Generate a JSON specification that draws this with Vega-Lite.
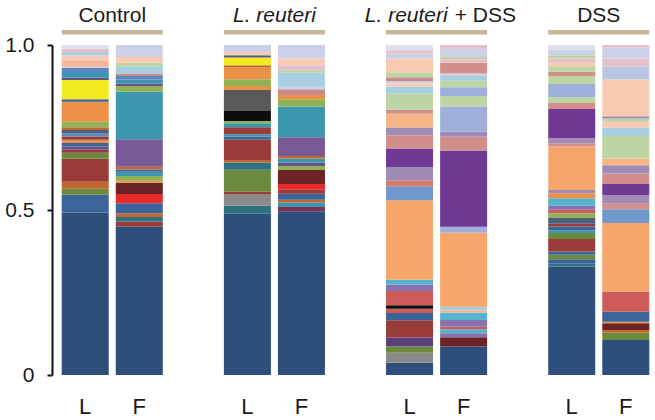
{
  "$schema": "https://vega.github.io/schema/vega-lite/v6.json",
  "width": 593,
  "height": 330,
  "autosize": {"type": "none"},
  "padding": {"left": 59, "top": 45, "right": 3, "bottom": 45},
  "background": "white",
  "config": {"view": {"stroke": null}, "font": "Liberation Sans"},
  "datasets": {
    "abundance": [
      {"sample":"Control L","taxon":"T01","share":49.2,"layer":1},
      {"sample":"Control L","taxon":"T02","share":5.4,"layer":2},
      {"sample":"Control L","taxon":"T03","share":1.8,"layer":3},
      {"sample":"Control L","taxon":"T04","share":2.1,"layer":4},
      {"sample":"Control L","taxon":"T05","share":7.0,"layer":5},
      {"sample":"Control L","taxon":"T03","share":1.8,"layer":6},
      {"sample":"Control L","taxon":"T05","share":0.9,"layer":7},
      {"sample":"Control L","taxon":"T06","share":1.0,"layer":8},
      {"sample":"Control L","taxon":"T02","share":1.0,"layer":9},
      {"sample":"Control L","taxon":"T07","share":1.0,"layer":10},
      {"sample":"Control L","taxon":"T05","share":1.0,"layer":11},
      {"sample":"Control L","taxon":"T12","share":1.0,"layer":12},
      {"sample":"Control L","taxon":"T08","share":1.0,"layer":13},
      {"sample":"Control L","taxon":"T04","share":0.8,"layer":14},
      {"sample":"Control L","taxon":"T09","share":1.7,"layer":15},
      {"sample":"Control L","taxon":"T07","share":6.0,"layer":16},
      {"sample":"Control L","taxon":"T02","share":0.8,"layer":17},
      {"sample":"Control L","taxon":"T10","share":5.8,"layer":18},
      {"sample":"Control L","taxon":"T06","share":0.7,"layer":19},
      {"sample":"Control L","taxon":"T11","share":1.4,"layer":20},
      {"sample":"Control L","taxon":"T12","share":1.5,"layer":21},
      {"sample":"Control L","taxon":"T17","share":0.4,"layer":22},
      {"sample":"Control L","taxon":"T13","share":2.0,"layer":23},
      {"sample":"Control L","taxon":"T14","share":1.5,"layer":24},
      {"sample":"Control L","taxon":"T15","share":1.0,"layer":25},
      {"sample":"Control L","taxon":"T16","share":1.0,"layer":26},
      {"sample":"Control L","taxon":"T41","share":1.1,"layer":27},

      {"sample":"Control F","taxon":"T01","share":44.9,"layer":1},
      {"sample":"Control F","taxon":"T05","share":1.5,"layer":2},
      {"sample":"Control F","taxon":"T18","share":1.3,"layer":3},
      {"sample":"Control F","taxon":"T04","share":1.2,"layer":4},
      {"sample":"Control F","taxon":"T02","share":3.0,"layer":5},
      {"sample":"Control F","taxon":"T19","share":2.8,"layer":6},
      {"sample":"Control F","taxon":"T20","share":3.4,"layer":7},
      {"sample":"Control F","taxon":"T07","share":0.6,"layer":8},
      {"sample":"Control F","taxon":"T09","share":1.4,"layer":9},
      {"sample":"Control F","taxon":"T11","share":1.3,"layer":10},
      {"sample":"Control F","taxon":"T02","share":0.7,"layer":11},
      {"sample":"Control F","taxon":"T04","share":0.8,"layer":12},
      {"sample":"Control F","taxon":"T21","share":8.3,"layer":13},
      {"sample":"Control F","taxon":"T11","share":14.4,"layer":14},
      {"sample":"Control F","taxon":"T09","share":1.7,"layer":15},
      {"sample":"Control F","taxon":"T06","share":0.8,"layer":16},
      {"sample":"Control F","taxon":"T11","share":1.2,"layer":17},
      {"sample":"Control F","taxon":"T12","share":1.0,"layer":18},
      {"sample":"Control F","taxon":"T23","share":0.8,"layer":19},
      {"sample":"Control F","taxon":"T15","share":2.2,"layer":20},
      {"sample":"Control F","taxon":"T22","share":1.0,"layer":21},
      {"sample":"Control F","taxon":"T24","share":1.8,"layer":22},
      {"sample":"Control F","taxon":"T17","share":3.6,"layer":23},

      {"sample":"L. reuteri L","taxon":"T01","share":48.8,"layer":1},
      {"sample":"L. reuteri L","taxon":"T18","share":2.4,"layer":2},
      {"sample":"L. reuteri L","taxon":"T27","share":3.6,"layer":3},
      {"sample":"L. reuteri L","taxon":"T05","share":0.7,"layer":4},
      {"sample":"L. reuteri L","taxon":"T03","share":6.6,"layer":5},
      {"sample":"L. reuteri L","taxon":"T18","share":2.2,"layer":6},
      {"sample":"L. reuteri L","taxon":"T04","share":0.8,"layer":7},
      {"sample":"L. reuteri L","taxon":"T05","share":6.1,"layer":8},
      {"sample":"L. reuteri L","taxon":"T02","share":1.0,"layer":9},
      {"sample":"L. reuteri L","taxon":"T11","share":0.7,"layer":10},
      {"sample":"L. reuteri L","taxon":"T05","share":2.1,"layer":11},
      {"sample":"L. reuteri L","taxon":"T11","share":1.2,"layer":12},
      {"sample":"L. reuteri L","taxon":"T09","share":0.7,"layer":13},
      {"sample":"L. reuteri L","taxon":"T26","share":3.0,"layer":14},
      {"sample":"L. reuteri L","taxon":"T25","share":6.4,"layer":15},
      {"sample":"L. reuteri L","taxon":"T07","share":1.2,"layer":16},
      {"sample":"L. reuteri L","taxon":"T09","share":2.0,"layer":17},
      {"sample":"L. reuteri L","taxon":"T07","share":3.6,"layer":18},
      {"sample":"L. reuteri L","taxon":"T04","share":0.7,"layer":19},
      {"sample":"L. reuteri L","taxon":"T10","share":2.3,"layer":20},
      {"sample":"L. reuteri L","taxon":"T08","share":0.7,"layer":21},
      {"sample":"L. reuteri L","taxon":"T24","share":1.0,"layer":22},
      {"sample":"L. reuteri L","taxon":"T17","share":2.1,"layer":23},

      {"sample":"L. reuteri F","taxon":"T01","share":49.5,"layer":1},
      {"sample":"L. reuteri F","taxon":"T28","share":1.3,"layer":2},
      {"sample":"L. reuteri F","taxon":"T11","share":1.4,"layer":3},
      {"sample":"L. reuteri F","taxon":"T04","share":0.8,"layer":4},
      {"sample":"L. reuteri F","taxon":"T02","share":1.8,"layer":5},
      {"sample":"L. reuteri F","taxon":"T05","share":1.2,"layer":6},
      {"sample":"L. reuteri F","taxon":"T19","share":1.8,"layer":7},
      {"sample":"L. reuteri F","taxon":"T20","share":4.2,"layer":8},
      {"sample":"L. reuteri F","taxon":"T09","share":1.2,"layer":9},
      {"sample":"L. reuteri F","taxon":"T06","share":1.0,"layer":10},
      {"sample":"L. reuteri F","taxon":"T11","share":1.3,"layer":11},
      {"sample":"L. reuteri F","taxon":"T04","share":0.7,"layer":12},
      {"sample":"L. reuteri F","taxon":"T21","share":5.7,"layer":13},
      {"sample":"L. reuteri F","taxon":"T11","share":9.3,"layer":14},
      {"sample":"L. reuteri F","taxon":"T09","share":2.2,"layer":15},
      {"sample":"L. reuteri F","taxon":"T07","share":1.3,"layer":16},
      {"sample":"L. reuteri F","taxon":"T23","share":1.7,"layer":17},
      {"sample":"L. reuteri F","taxon":"T17","share":0.8,"layer":18},
      {"sample":"L. reuteri F","taxon":"T15","share":4.2,"layer":19},
      {"sample":"L. reuteri F","taxon":"T22","share":0.8,"layer":20},
      {"sample":"L. reuteri F","taxon":"T16","share":1.5,"layer":21},
      {"sample":"L. reuteri F","taxon":"T24","share":2.0,"layer":22},
      {"sample":"L. reuteri F","taxon":"T17","share":4.1,"layer":23},

      {"sample":"L. reuteri + DSS L","taxon":"T01","share":3.7,"layer":1},
      {"sample":"L. reuteri + DSS L","taxon":"T27","share":3.0,"layer":2},
      {"sample":"L. reuteri + DSS L","taxon":"T03","share":2.0,"layer":3},
      {"sample":"L. reuteri + DSS L","taxon":"T39","share":2.6,"layer":4},
      {"sample":"L. reuteri + DSS L","taxon":"T05","share":5.2,"layer":5},
      {"sample":"L. reuteri + DSS L","taxon":"T02","share":2.2,"layer":6},
      {"sample":"L. reuteri + DSS L","taxon":"T34","share":1.3,"layer":7},
      {"sample":"L. reuteri + DSS L","taxon":"T26","share":1.0,"layer":8},
      {"sample":"L. reuteri + DSS L","taxon":"T34","share":4.3,"layer":9},
      {"sample":"L. reuteri + DSS L","taxon":"T36","share":2.0,"layer":10},
      {"sample":"L. reuteri + DSS L","taxon":"T35","share":1.4,"layer":11},
      {"sample":"L. reuteri + DSS L","taxon":"T33","share":24.0,"layer":12},
      {"sample":"L. reuteri + DSS L","taxon":"T38","share":4.2,"layer":13},
      {"sample":"L. reuteri + DSS L","taxon":"T40","share":1.8,"layer":14},
      {"sample":"L. reuteri + DSS L","taxon":"T29","share":4.0,"layer":15},
      {"sample":"L. reuteri + DSS L","taxon":"T31","share":5.6,"layer":16},
      {"sample":"L. reuteri + DSS L","taxon":"T30","share":4.0,"layer":17},
      {"sample":"L. reuteri + DSS L","taxon":"T29","share":2.3,"layer":18},
      {"sample":"L. reuteri + DSS L","taxon":"T32","share":4.2,"layer":19},
      {"sample":"L. reuteri + DSS L","taxon":"T30","share":1.2,"layer":20},
      {"sample":"L. reuteri + DSS L","taxon":"T22","share":4.8,"layer":21},
      {"sample":"L. reuteri + DSS L","taxon":"T15","share":2.2,"layer":22},
      {"sample":"L. reuteri + DSS L","taxon":"T24","share":1.0,"layer":23},
      {"sample":"L. reuteri + DSS L","taxon":"T17","share":0.6,"layer":24},
      {"sample":"L. reuteri + DSS L","taxon":"T23","share":1.2,"layer":25},
      {"sample":"L. reuteri + DSS L","taxon":"T22","share":1.5,"layer":26},
      {"sample":"L. reuteri + DSS L","taxon":"T24","share":4.1,"layer":27},
      {"sample":"L. reuteri + DSS L","taxon":"T17","share":1.5,"layer":28},
      {"sample":"L. reuteri + DSS L","taxon":"T16","share":1.0,"layer":29},
      {"sample":"L. reuteri + DSS L","taxon":"T41","share":1.6,"layer":30},

      {"sample":"L. reuteri + DSS F","taxon":"T01","share":8.6,"layer":1},
      {"sample":"L. reuteri + DSS F","taxon":"T20","share":2.8,"layer":2},
      {"sample":"L. reuteri + DSS F","taxon":"T36","share":1.2,"layer":3},
      {"sample":"L. reuteri + DSS F","taxon":"T35","share":1.2,"layer":4},
      {"sample":"L. reuteri + DSS F","taxon":"T34","share":0.8,"layer":5},
      {"sample":"L. reuteri + DSS F","taxon":"T36","share":2.0,"layer":6},
      {"sample":"L. reuteri + DSS F","taxon":"T35","share":2.2,"layer":7},
      {"sample":"L. reuteri + DSS F","taxon":"T32","share":0.8,"layer":8},
      {"sample":"L. reuteri + DSS F","taxon":"T15","share":1.0,"layer":9},
      {"sample":"L. reuteri + DSS F","taxon":"T33","share":22.4,"layer":10},
      {"sample":"L. reuteri + DSS F","taxon":"T37","share":1.8,"layer":11},
      {"sample":"L. reuteri + DSS F","taxon":"T31","share":23.0,"layer":12},
      {"sample":"L. reuteri + DSS F","taxon":"T30","share":4.2,"layer":13},
      {"sample":"L. reuteri + DSS F","taxon":"T29","share":1.5,"layer":14},
      {"sample":"L. reuteri + DSS F","taxon":"T37","share":7.6,"layer":15},
      {"sample":"L. reuteri + DSS F","taxon":"T22","share":3.2,"layer":16},
      {"sample":"L. reuteri + DSS F","taxon":"T37","share":2.6,"layer":17},
      {"sample":"L. reuteri + DSS F","taxon":"T22","share":2.0,"layer":18},
      {"sample":"L. reuteri + DSS F","taxon":"T15","share":1.4,"layer":19},
      {"sample":"L. reuteri + DSS F","taxon":"T17","share":0.8,"layer":20},
      {"sample":"L. reuteri + DSS F","taxon":"T30","share":3.2,"layer":21},
      {"sample":"L. reuteri + DSS F","taxon":"T16","share":1.1,"layer":22},
      {"sample":"L. reuteri + DSS F","taxon":"T22","share":0.7,"layer":23},
      {"sample":"L. reuteri + DSS F","taxon":"T17","share":2.5,"layer":24},
      {"sample":"L. reuteri + DSS F","taxon":"T16","share":1.1,"layer":25},

      {"sample":"DSS L","taxon":"T01","share":32.8,"layer":1},
      {"sample":"DSS L","taxon":"T18","share":0.8,"layer":2},
      {"sample":"DSS L","taxon":"T02","share":1.4,"layer":3},
      {"sample":"DSS L","taxon":"T03","share":1.3,"layer":4},
      {"sample":"DSS L","taxon":"T02","share":1.0,"layer":5},
      {"sample":"DSS L","taxon":"T05","share":3.8,"layer":6},
      {"sample":"DSS L","taxon":"T03","share":1.8,"layer":7},
      {"sample":"DSS L","taxon":"T11","share":0.8,"layer":8},
      {"sample":"DSS L","taxon":"T02","share":1.2,"layer":9},
      {"sample":"DSS L","taxon":"T05","share":0.8,"layer":10},
      {"sample":"DSS L","taxon":"T08","share":1.7,"layer":11},
      {"sample":"DSS L","taxon":"T09","share":1.5,"layer":12},
      {"sample":"DSS L","taxon":"T34","share":1.0,"layer":13},
      {"sample":"DSS L","taxon":"T36","share":1.2,"layer":14},
      {"sample":"DSS L","taxon":"T35","share":2.3,"layer":15},
      {"sample":"DSS L","taxon":"T07","share":1.5,"layer":16},
      {"sample":"DSS L","taxon":"T29","share":1.0,"layer":17},
      {"sample":"DSS L","taxon":"T33","share":13.1,"layer":18},
      {"sample":"DSS L","taxon":"T30","share":1.0,"layer":19},
      {"sample":"DSS L","taxon":"T29","share":1.5,"layer":20},
      {"sample":"DSS L","taxon":"T31","share":8.9,"layer":21},
      {"sample":"DSS L","taxon":"T30","share":1.9,"layer":22},
      {"sample":"DSS L","taxon":"T22","share":1.6,"layer":23},
      {"sample":"DSS L","taxon":"T37","share":4.0,"layer":24},
      {"sample":"DSS L","taxon":"T22","share":2.4,"layer":25},
      {"sample":"DSS L","taxon":"T30","share":1.3,"layer":26},
      {"sample":"DSS L","taxon":"T22","share":1.7,"layer":27},
      {"sample":"DSS L","taxon":"T24","share":1.0,"layer":28},
      {"sample":"DSS L","taxon":"T16","share":1.3,"layer":29},
      {"sample":"DSS L","taxon":"T22","share":1.0,"layer":30},
      {"sample":"DSS L","taxon":"T17","share":1.7,"layer":31},
      {"sample":"DSS L","taxon":"T41","share":1.4,"layer":32},

      {"sample":"DSS F","taxon":"T01","share":10.6,"layer":1},
      {"sample":"DSS F","taxon":"T03","share":2.2,"layer":2},
      {"sample":"DSS F","taxon":"T04","share":0.8,"layer":3},
      {"sample":"DSS F","taxon":"T20","share":2.0,"layer":4},
      {"sample":"DSS F","taxon":"T07","share":0.5,"layer":5},
      {"sample":"DSS F","taxon":"T02","share":3.0,"layer":6},
      {"sample":"DSS F","taxon":"T34","share":6.1,"layer":7},
      {"sample":"DSS F","taxon":"T33","share":20.7,"layer":8},
      {"sample":"DSS F","taxon":"T38","share":4.2,"layer":9},
      {"sample":"DSS F","taxon":"T30","share":1.8,"layer":10},
      {"sample":"DSS F","taxon":"T29","share":2.5,"layer":11},
      {"sample":"DSS F","taxon":"T31","share":3.3,"layer":12},
      {"sample":"DSS F","taxon":"T30","share":3.2,"layer":13},
      {"sample":"DSS F","taxon":"T29","share":2.5,"layer":14},
      {"sample":"DSS F","taxon":"T32","share":2.0,"layer":15},
      {"sample":"DSS F","taxon":"T22","share":6.8,"layer":16},
      {"sample":"DSS F","taxon":"T15","share":2.6,"layer":17},
      {"sample":"DSS F","taxon":"T24","share":1.7,"layer":18},
      {"sample":"DSS F","taxon":"T22","share":1.0,"layer":19},
      {"sample":"DSS F","taxon":"T29","share":0.7,"layer":20},
      {"sample":"DSS F","taxon":"T24","share":11.1,"layer":21},
      {"sample":"DSS F","taxon":"T42","share":3.8,"layer":22},
      {"sample":"DSS F","taxon":"T16","share":2.5,"layer":23},
      {"sample":"DSS F","taxon":"T17","share":3.3,"layer":24},
      {"sample":"DSS F","taxon":"T16","share":0.8,"layer":25}
    ],
    "groups": [
      {"group":"Control","from":0.05,"to":1.92,"mid":0.985},
      {"group":"L. reuteri","from":3.05,"to":4.92,"mid":3.985},
      {"group":"L. reuteri + DSS","from":6.05,"to":7.92,"mid":7.19},
      {"group":"DSS","from":9.05,"to":10.92,"mid":9.985}
    ]
  },
  "layer": [
    {
      "data": {"name": "abundance"},
      "mark": {"type": "bar"},
      "encoding": {
        "x": {
          "field": "sample", "type": "nominal",
          "scale": {
            "domain": ["Control L","Control F"," ","L. reuteri L","L. reuteri F","  ","L. reuteri + DSS L","L. reuteri + DSS F","   ","DSS L","DSS F"],
            "paddingInner": 0.13, "paddingOuter": 0.05
          },
          "axis": {
            "title": null, "domain": false, "ticks": false, "tickSize": 0,
            "labelAngle": 0, "labelFontSize": 22, "labelColor": "#1a1a1a",
            "labelPadding": 21, "labelFont": "Liberation Sans",
            "labelExpr": "slice(datum.label, -1)"
          }
        },
        "y": {
          "field": "share", "type": "quantitative", "stack": "normalize",
          "scale": {"domain": [0, 1], "nice": false},
          "axis": {
            "title": null, "grid": false, "values": [0, 0.5, 1],
            "labelExpr": "datum.value == 0 ? '0' : format(datum.value, '.1f')",
            "domainColor": "#111111", "domainWidth": 2,
            "tickColor": "#111111", "tickWidth": 2, "tickSize": 5,
            "labelFontSize": 21, "labelColor": "#1a1a1a", "labelPadding": 13,
            "labelFont": "Liberation Sans", "offset": 7
          }
        },
        "color": {
          "field": "taxon", "type": "nominal", "legend": null,
          "scale": {
            "domain": ["T01","T02","T03","T04","T05","T06","T07","T08","T09","T10","T11","T12","T13","T14","T15","T16","T17","T18","T19","T20","T21","T22","T23","T24","T25","T26","T27","T28","T29","T30","T31","T32","T33","T34","T35","T36","T37","T38","T39","T40","T41","T42"],
            "range": ["#2e4f7b","#3a649a","#6b8a3d","#c0682f","#983b39","#67508c","#ec8f47","#4c5f7f","#8fb354","#f3ea20","#3b96ae","#5b87c0","#f5b596","#f2cbc3","#a8cfe0","#e6c0c8","#cdd1e7","#2f7181","#e62b2a","#6b2325","#7a5997","#bcd5a2","#c98a8e","#f8cab3","#595959","#0d0d0d","#8a8a8a","#7c3452","#a08bb7","#d28e8a","#6f3994","#f7b487","#f6a56b","#cc5b5a","#55b3ce","#8a71b0","#9eb0da","#7098cc","#5b3f7b","#d57a6f","#dcdfee","#b9c5e3"]
          }
        },
        "order": {"field": "layer", "type": "quantitative"}
      }
    },
    {
      "data": {"name": "groups"},
      "mark": {"type": "rule", "color": "#c6b697", "strokeWidth": 4.5},
      "encoding": {
        "x": {"field": "from", "type": "quantitative", "scale": {"domain": [0, 10.97], "nice": false, "zero": false}, "axis": null},
        "x2": {"field": "to"},
        "y": {"datum": 1.039, "type": "quantitative", "scale": {"domain": [0, 1], "nice": false}, "axis": null}
      }
    },
    {
      "data": {"name": "groups"},
      "transform": [{"filter": "datum.group == 'Control' || datum.group == 'DSS'"}],
      "mark": {"type": "text", "fontSize": 21, "font": "Liberation Sans", "color": "#1a1a1a", "align": "center", "baseline": "alphabetic"},
      "encoding": {
        "x": {"field": "mid", "type": "quantitative", "scale": {"domain": [0, 10.97], "nice": false, "zero": false}, "axis": null},
        "y": {"datum": 1.0697, "type": "quantitative", "scale": {"domain": [0, 1], "nice": false}, "axis": null},
        "text": {"field": "group"}
      }
    },
    {
      "data": {"name": "groups"},
      "transform": [{"filter": "datum.group == 'L. reuteri'"}],
      "mark": {"type": "text", "fontSize": 21, "font": "Liberation Sans", "fontStyle": "italic", "color": "#1a1a1a", "align": "center", "baseline": "alphabetic"},
      "encoding": {
        "x": {"field": "mid", "type": "quantitative", "scale": {"domain": [0, 10.97], "nice": false, "zero": false}, "axis": null},
        "y": {"datum": 1.0697, "type": "quantitative", "scale": {"domain": [0, 1], "nice": false}, "axis": null},
        "text": {"field": "group"}
      }
    },
    {
      "data": {"name": "groups"},
      "transform": [{"filter": "datum.group == 'L. reuteri + DSS'"}],
      "mark": {"type": "text", "fontSize": 21, "font": "Liberation Sans", "fontStyle": "italic", "color": "#1a1a1a", "align": "right", "baseline": "alphabetic"},
      "encoding": {
        "x": {"field": "mid", "type": "quantitative", "scale": {"domain": [0, 10.97], "nice": false, "zero": false}, "axis": null},
        "y": {"datum": 1.0697, "type": "quantitative", "scale": {"domain": [0, 1], "nice": false}, "axis": null},
        "text": {"value": "L. reuteri"}
      }
    },
    {
      "data": {"name": "groups"},
      "transform": [{"filter": "datum.group == 'L. reuteri + DSS'"}],
      "mark": {"type": "text", "fontSize": 21, "font": "Liberation Sans", "color": "#1a1a1a", "align": "left", "baseline": "alphabetic", "dx": 7},
      "encoding": {
        "x": {"field": "mid", "type": "quantitative", "scale": {"domain": [0, 10.97], "nice": false, "zero": false}, "axis": null},
        "y": {"datum": 1.0697, "type": "quantitative", "scale": {"domain": [0, 1], "nice": false}, "axis": null},
        "text": {"value": "+ DSS"}
      }
    }
  ],
  "resolve": {"scale": {"x": "independent", "y": "independent"}}
}
